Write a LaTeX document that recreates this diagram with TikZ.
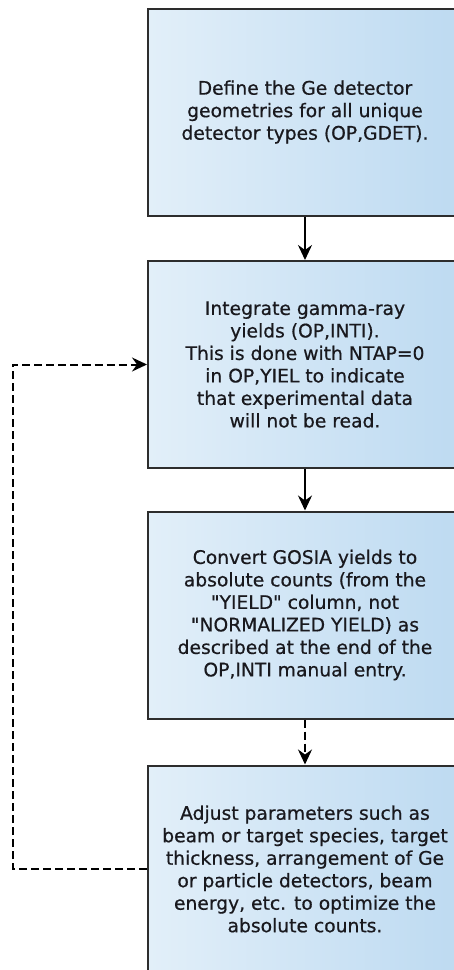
\documentclass[tikz,border=0pt]{standalone}
\usepackage{fontspec}
\setmainfont[FakeBold=0.6]{DejaVu Sans}
\usetikzlibrary{arrows.meta}
\definecolor{boxL}{RGB}{226,239,249}
\definecolor{boxR}{RGB}{189,218,241}
\definecolor{boxE}{RGB}{45,45,45}
\definecolor{txt}{RGB}{25,25,30}
\tikzset{
  stepbox/.style={draw=boxE, line width=2pt, left color=boxL, right color=boxR,
    minimum width=314pt, minimum height=207pt, inner sep=0pt,
    align=center, text=txt, font=\fontsize{18.7}{22.5}\selectfont},
  flow/.style={line width=2pt, draw=black, -{Stealth[length=15pt,width=14pt,inset=5pt]}},
  loopline/.style={flow, dash pattern=on 8pt off 4pt},
}
\begin{document}
\begin{tikzpicture}[x=1pt,y=-1pt]
\useasboundingbox (0,0) rectangle (454,970);
\clip (0,0) rectangle (454,970);
\fill[white] (0,0) rectangle (454,970);
\node[stepbox] (b1) at (305,112) {Define the Ge detector\\geometries for all unique\\detector types (OP,GDET).};
\node[stepbox] (b2) at (305,364.5) {Integrate gamma-ray\\yields (OP,INTI).\\This is done with NTAP=0\\in OP,YIEL to indicate\\that experimental data\\will not be read.};
\node[stepbox] (b3) at (305,615) {Convert GOSIA yields to\\absolute counts (from the\\\textquotedbl YIELD\textquotedbl{} column, not\\\textquotedbl NORMALIZED YIELD) as\\described at the end of the\\OP,INTI manual entry.};
\node[stepbox] (b4) at (305,869) {Adjust parameters such as\\beam or target species, target\\thickness, arrangement of Ge\\or particle detectors, beam\\energy, etc. to optimize the\\absolute counts.};
\coordinate (c1) at (13,869);
\coordinate (c2) at (13,364.5);
\draw[flow] (b1.south) -- (b2.north);
\draw[flow] (b2.south) -- (b3.north);
\draw[loopline] (b3.south) -- (b4.north);
\draw[loopline] (b4.west) -- (c1) -- (c2) -- (b2.west);
\end{tikzpicture}
\end{document}
